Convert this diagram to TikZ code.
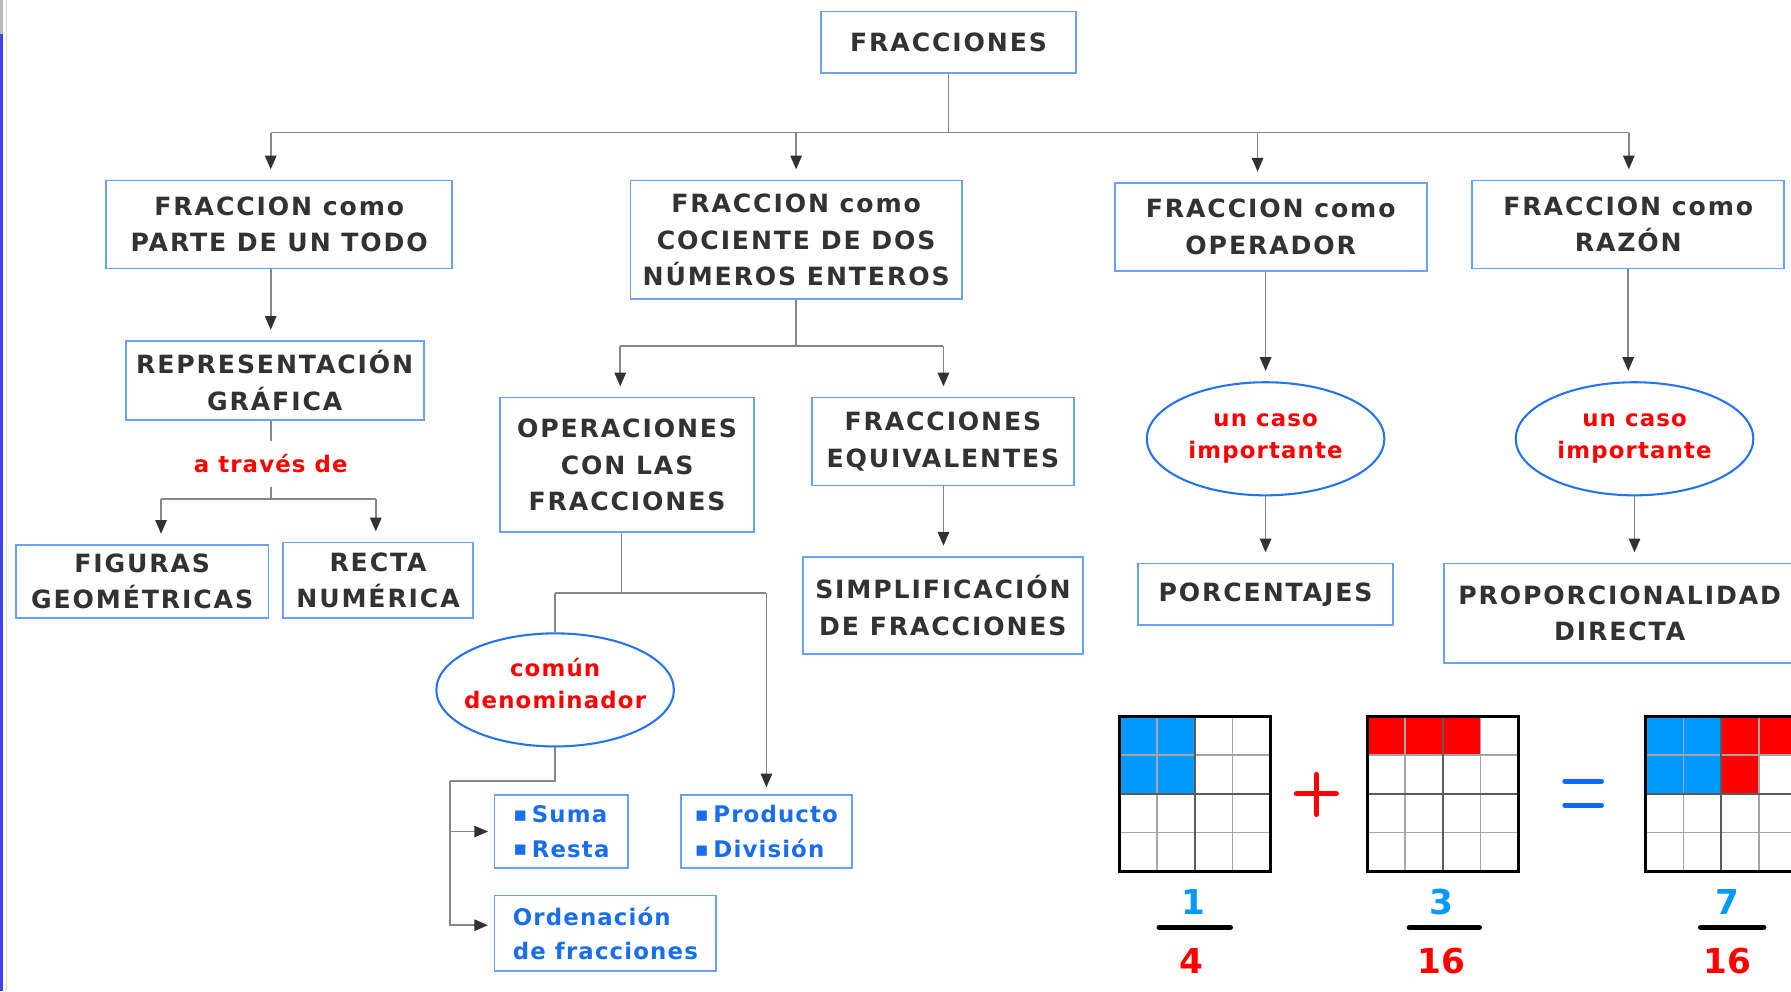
\documentclass[tikz,border=0pt]{standalone}
\usepackage{fontspec}
\setmainfont{DejaVu Sans}
\newfontfamily\cajafont{DejaVu Sans}[LetterSpace=7.5]
\newfontfamily\rojofont{DejaVu Sans}[LetterSpace=5]
\newfontfamily\itemfont{DejaVu Sans}[LetterSpace=5]
\usetikzlibrary{positioning,shapes.geometric,arrows.meta}
\definecolor{bordeazul}{RGB}{105,160,248}
\definecolor{azulelipse}{RGB}{35,115,240}
\definecolor{textogris}{RGB}{50,50,50}
\definecolor{rojo}{RGB}{255,0,0}
\definecolor{azultexto}{RGB}{25,110,235}
\definecolor{azuligual}{RGB}{15,105,255}
\definecolor{celeste}{RGB}{0,153,255}
\definecolor{gris}{RGB}{135,135,135}
\definecolor{grisclaro}{RGB}{165,165,165}
\tikzset{concept/.style={draw=bordeazul,line width=1.5pt,fill=white,align=center,text=textogris,inner sep=0pt,font=\cajafont\bfseries\fontsize{22}{32}\selectfont},
  caso/.style={ellipse,draw=azulelipse,line width=1.8pt,align=center,text=rojo,inner xsep=-12pt,inner ysep=0pt,minimum width=208pt,minimum height=99pt,font=\rojofont\bfseries\fontsize{20}{28}\selectfont},
  item/.style={draw=bordeazul,line width=1.5pt,align=left,text=azultexto,inner sep=0pt,font=\itemfont\bfseries\fontsize{20}{30}\selectfont},
  num/.style={inner sep=0pt,font=\bfseries\fontsize{30}{30}\selectfont},
  linea/.style={draw=gris,line width=1.4pt},
  flecha/.style={linea,-{Triangle[length=12pt,width=10pt,color=textogris]},shorten >=9pt},
  rejilla/.style={draw=grisclaro,line width=1.2pt},
  rejilla gruesa/.style={draw=textogris!80,line width=2pt},
}
\newcommand{\fl}[2]{\draw[flecha] (#1) -- (#2);}
\newcommand{\li}[2]{\draw[linea] (#1) -- (#2);}
\newcommand{\cuadricula}[2]{%
  \foreach \k in {1,3} {
    \draw[rejilla] (#1+\k*33,#2) -- (#1+\k*33,#2+136);
    \draw[rejilla] (#1,#2+\k*34) -- (#1+132,#2+\k*34);
  }
  \draw[rejilla gruesa] (#1+66,#2) -- (#1+66,#2+136);
  \draw[rejilla gruesa] (#1,#2+68) -- (#1+132,#2+68);
  \draw[black,line width=2.6pt] (#1,#2) rectangle (#1+132,#2+136);
}
\newcommand{\bul}{{\fontsize{18}{18}\selectfont\raisebox{1pt}{▪}}\hspace{4pt}}

\begin{document}
\begin{tikzpicture}[x=1pt,y=-1pt]
\useasboundingbox (0,0) rectangle (1568,868);
\clip (0,0) rectangle (1568,868);
\fill[white] (0,0) rectangle (1568,868);
\fill[gray!55] (0,0) rectangle (3,30);
\fill[blue!75] (0,30) rectangle (3,868);
\draw[gray!30,line width=1pt] (6,0) -- (6,868);

% primer nivel
\node[concept,minimum width=223pt,minimum height=54pt] (raiz) at (830.5,37) {FRACCIONES};
\node[concept,minimum width=303pt,minimum height=77pt] (parte) at (244.5,196.5) {FRACCION como\\PARTE DE UN TODO};
\node[concept,minimum width=290pt,minimum height=104pt] (cociente) at (697,210) {FRACCION como\\COCIENTE DE DOS\\NÚMEROS ENTEROS};
\node[concept,minimum width=273pt,minimum height=77pt] (operador) at (1112.5,198.5) {FRACCION como\\OPERADOR};
\node[concept,minimum width=273pt,minimum height=77pt] (razon) at (1425.5,196.5) {FRACCION como\\RAZÓN};

% parte de un todo
\node[concept,minimum width=261pt,minimum height=69pt] (grafica) [below=62pt of parte,xshift=-4pt] {REPRESENTACIÓN\\GRÁFICA};
\node[text=rojo,inner sep=0pt,minimum height=40pt,font=\rojofont\bfseries\fontsize{20}{24}\selectfont] (atraves) at (237,406) {a través de};
\node[concept,minimum width=221pt,minimum height=64pt] (figuras) at (124.5,509) {FIGURAS\\GEOMÉTRICAS};
\node[concept,minimum width=166pt,minimum height=66pt] (recta) at (331,508) {RECTA\\NUMÉRICA};

% cociente
\node[concept,minimum width=222pt,minimum height=118pt] (operaciones) at (549,407) {OPERACIONES\\CON LAS\\FRACCIONES};
\node[concept,minimum width=229pt,minimum height=77pt] (equivalentes) at (825.5,386.5) {FRACCIONES\\EQUIVALENTES};
\node[concept,minimum width=245pt,minimum height=85pt] (simplif) [below=61pt of equivalentes] {SIMPLIFICACIÓN\\DE FRACCIONES};
\node[caso] (comun) at (486,604) {común\\denominador\\[-16pt]};
\node[item,minimum width=117pt,minimum height=64pt] (suma) at (491.5,728) {\bul Suma\\\bul Resta};
\node[item,minimum width=150pt,minimum height=64pt] (producto) at (671,728) {\bul Producto\\\bul División};
\node[item,minimum width=194pt,minimum height=66pt] (ordenacion) at (530,817) {Ordenación\\de fracciones};

% operador y razon
\node[caso] (caso1) [below=96pt of operador,xshift=-4.5pt] {un caso\\importante};
\node[concept,minimum width=223pt,minimum height=54pt] (porcentajes) [below=58pt of caso1] {PORCENTAJES};
\node[caso] (caso2) [below=98pt of razon,xshift=5.5pt] {un caso\\importante};
\node[concept,minimum width=308pt,minimum height=87pt] (proporcion) [below=58pt of caso2,xshift=-13pt] {PROPORCIONALIDAD\\DIRECTA};

% conectores
\coordinate (b1) at (237,116);
\coordinate (b2) at (697,116);
\coordinate (b3) at (1101,116);
\coordinate (b4) at (1426,116);
\li{raiz}{raiz.south |- b1}
\li{b1}{b4}
\fl{b1}{b1 |- parte.north}
\fl{b2}{b2 |- cociente.north}
\fl{b3}{b3 |- operador.north}
\fl{b4}{b4 |- razon.north}

\fl{parte.south -| atraves}{atraves |- grafica.north}
\li{grafica.south -| atraves}{atraves.north}
\coordinate (g1) at (141,437);
\coordinate (g2) at (329,437);
\li{atraves.south}{atraves.south |- g1}
\li{g1}{g2}
\fl{g1}{g1 |- figuras.north}
\fl{g2}{g2 |- recta.north}

\coordinate (c1) at (543,303);
\coordinate (c2) at (826,303);
\li{cociente}{cociente.south |- c1}
\li{c1}{c2}
\fl{c1}{c1 |- operaciones.north}
\fl{c2}{c2 |- equivalentes.north}
\fl{c2 |- equivalentes.south}{c2 |- simplif.north}

\coordinate (o0) at (544,519);
\coordinate (o1) at (486,519);
\coordinate (o2) at (671,519);
\li{operaciones.south -| o0}{o0}
\li{o1}{o2}
\li{o1}{comun.north}
\draw[flecha,shorten >=6pt] (o2) -- (o2 |- producto.north);

\coordinate (d1) at (394,684);
\draw[linea] (comun.south) -- (comun.south |- d1) -- (d1);
\draw[flecha,shorten >=5pt] (d1) |- (suma.west);
\draw[flecha,shorten >=5pt] (d1) |- ([yshift=7pt]ordenacion.west);

\fl{caso1.north |- operador.south}{caso1.north}
\fl{caso1.south}{caso1.south |- porcentajes.north}
\fl{razon.south}{razon.south |- caso2.north}
\fl{caso2.south}{caso2.south |- proporcion.north}

% cuadriculas
\fill[celeste] (980,627) rectangle (1046,695);
\cuadricula{980}{627}
\fill[rojo] (1197,627) rectangle (1296,661);
\cuadricula{1197}{627}
\fill[celeste] (1441,627) rectangle (1507,695);
\fill[rojo] (1507,627) rectangle (1573,661);
\fill[rojo] (1507,661) rectangle (1540,695);
\cuadricula{1441}{627}

\draw[rojo,line width=4.5pt,line cap=round] (1135,695) -- (1170,695) (1152.5,678) -- (1152.5,713);
\draw[azuligual,line width=4.5pt,line cap=round] (1370,684) -- (1402,684) (1370,705) -- (1402,705);

\node[num,text=celeste] (n1) at (1045,790) {1};
\node[num,text=rojo] (d4) at (1043,841) {4};
\node[num,text=celeste] (n3) at (1262,790) {3};
\node[num,text=rojo] (d16a) at (1262,841) {16};
\node[num,text=celeste] (n7) at (1512,790) {7};
\node[num,text=rojo] (d16b) at (1512,841) {16};
\draw[black,line width=5pt,line cap=round] (1015,812) -- (1077,812) (1234,812) -- (1295,812) (1489,812) -- (1544,812);
\end{tikzpicture}
\end{document}
